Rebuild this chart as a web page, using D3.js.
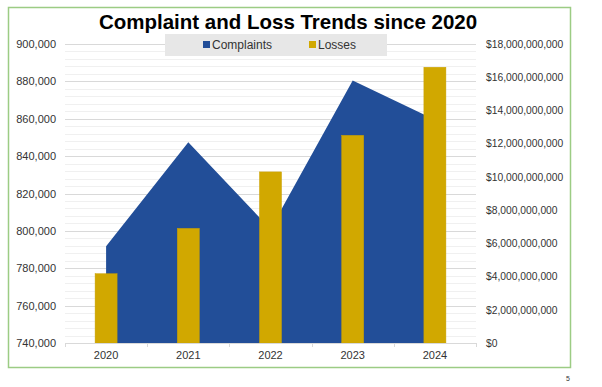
<!DOCTYPE html>
<html><head><meta charset="utf-8">
<script src="https://cdn.jsdelivr.net/npm/d3@7"></script>
<style>body{margin:0;background:#fff}svg{display:block}text{font-family:"Liberation Sans",Arial,sans-serif}</style>
</head><body>
<script>
const years = ["2020","2021","2022","2023","2024"];
const complaints = [791790, 847376, 800944, 880418, 859532];
const losses = [4170000000, 6900000000, 10300000000, 12500000000, 16600000000];
const leftTicks = [740000,760000,780000,800000,820000,840000,860000,880000,900000];
const rightTicks = [0,2e9,4e9,6e9,8e9,10e9,12e9,14e9,16e9,18e9];

const W=602,H=387;
const svg=d3.select("body").append("svg").attr("width",W).attr("height",H);
svg.append("rect").attr("x",8.5).attr("y",7.5).attr("width",562).attr("height",360)
  .attr("fill","#fff").attr("stroke","#9ccc84").attr("stroke-width",1.5);

const x0=65,x1=476,yTop=44,yBot=343;
const x=d3.scaleBand().domain(years).range([x0,x1]);
const yL=d3.scaleLinear().domain([740000,900000]).range([yBot,yTop]);
const yR=d3.scaleLinear().domain([0,18e9]).range([yBot,yTop]);

// minor gridlines
const minor=d3.range(740000,900001,4000).filter(v=>v%20000!==0);
svg.append("g").selectAll("line").data(minor).join("line")
  .attr("x1",x0).attr("x2",x1).attr("y1",d=>Math.round(yL(d))+0.5).attr("y2",d=>Math.round(yL(d))+0.5)
  .attr("stroke","#f0f0f0").attr("stroke-width",1);
svg.append("g").selectAll("line").data(leftTicks.slice(1)).join("line")
  .attr("x1",x0).attr("x2",x1).attr("y1",d=>Math.round(yL(d))+0.5).attr("y2",d=>Math.round(yL(d))+0.5)
  .attr("stroke","#d9d9d9").attr("stroke-width",1);

// area
const area=d3.area().x((d,i)=>x(years[i])+x.bandwidth()/2).y0(yL(740000)).y1(d=>yL(d));
svg.append("path").datum(complaints).attr("d",area).attr("fill","#224e98");

// bars
const bw=22;
svg.append("g").selectAll("rect").data(losses).join("rect")
  .attr("x",(d,i)=>x(years[i])+x.bandwidth()/2-bw/2).attr("width",bw)
  .attr("y",d=>yR(d)).attr("height",d=>yBot-yR(d))
  .attr("fill","#d1a800").attr("stroke","#c9a000").attr("stroke-width",0.5);

// baseline and ticks
svg.append("line").attr("x1",x0).attr("x2",x1).attr("y1",yBot+0.5).attr("y2",yBot+0.5).attr("stroke","#d9d9d9");
const xAxis=d3.axisBottom(x).tickSize(0).tickPadding(8);
const gx=svg.append("g").attr("transform",`translate(0,${yBot})`).call(xAxis);
gx.select(".domain").remove();
gx.selectAll("text").attr("font-size",11).attr("fill","#333").attr("font-family","Liberation Sans, Arial, sans-serif");
svg.append("g").selectAll("line").data(d3.range(6)).join("line")
  .attr("x1",i=>Math.round(x0+i*x.step())+0.5).attr("x2",i=>Math.round(x0+i*x.step())+0.5)
  .attr("y1",yBot).attr("y2",yBot+4).attr("stroke","#d9d9d9");

// left axis
const gl=svg.append("g").attr("transform",`translate(${x0},0)`)
  .call(d3.axisLeft(yL).tickValues(leftTicks).tickSize(0).tickPadding(9).tickFormat(d3.format(",")));
gl.select(".domain").remove();
gl.selectAll("text").attr("font-size",11).attr("fill","#333").attr("font-family","Liberation Sans, Arial, sans-serif");

// right axis
const gr=svg.append("g").attr("transform",`translate(${x1},0)`)
  .call(d3.axisRight(yR).tickValues(rightTicks).tickSize(0).tickPadding(10).tickFormat(d=>"$"+d3.format(",")(d)));
gr.select(".domain").remove();
gr.selectAll("text").attr("font-size",10.3).attr("fill","#333").attr("font-family","Liberation Sans, Arial, sans-serif");

// title
svg.append("text").attr("x",288).attr("y",29).attr("text-anchor","middle")
  .attr("font-size",20.5).attr("font-weight","bold").attr("fill","#000")
  .text("Complaint and Loss Trends since 2020");

// legend
svg.append("rect").attr("x",165).attr("y",34).attr("width",222).attr("height",22).attr("fill","#e7e7e7");
const leg=[{n:"Complaints",c:"#224e98",x:203},{n:"Losses",c:"#d1a800",x:309}];
leg.forEach(l=>{
  svg.append("rect").attr("x",l.x).attr("y",41).attr("width",7).attr("height",7).attr("fill",l.c);
  svg.append("text").attr("x",l.x+9).attr("y",49).attr("font-size",12).attr("fill","#333").text(l.n);
});

svg.append("text").attr("x",570).attr("y",381).attr("font-size",7).attr("fill","#333").attr("text-anchor","end").text("5");
</script>
</body></html>
